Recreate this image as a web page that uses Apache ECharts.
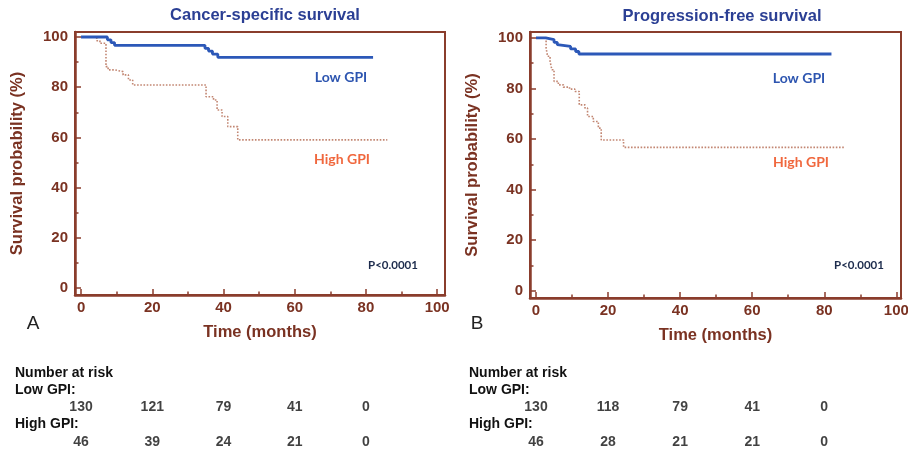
<!DOCTYPE html>
<html><head><meta charset="utf-8">
<script src="https://cdn.jsdelivr.net/npm/echarts@6/dist/echarts.min.js"></script>
<style>html,body{margin:0;padding:0;background:#fff}#c{width:908px;height:451px}</style>
</head><body><div id="c"></div>
<script>
// ---- data ----
const xTicks = [0, 20, 40, 60, 80, 100];
const xMinor = [10, 30, 50, 70, 90];
const yTicks = [0, 20, 40, 60, 80, 100];
const yMinor = [10, 30, 50, 70, 90];
const riskTimes = [0, 20, 40, 60, 80];

const cssLow = [[0,100],[7.4,98.9],[8.4,97.8],[9.4,96.7],[34.8,95.5],[35.8,94.4],[36.9,93.2],[38.4,91.9],[82,91.9]];
const cssHigh = [[0,100],[4.4,98.5],[5.3,97.5],[7.0,88.2],[7.6,86.9],[9.5,86.2],[11.8,84.9],[13.3,82.9],[14.5,80.9],[35.1,76.2],[37.2,74.9],[38.2,70.9],[39.6,68.3],[41.2,64.3],[44,59],[86,59]];
const pfsLow = [[0,100],[2.7,99.3],[5,98.2],[5.9,97.3],[6.4,96.6],[9.6,95.6],[11,94.6],[11.9,93.6],[82,93.6]];
const pfsHigh = [[0,100],[2.8,96],[3.2,92.7],[3.9,90.7],[4.4,87.4],[5,82.8],[6.2,81.4],[7.6,80.5],[9.3,79.7],[10.8,78.8],[12,73.5],[13.6,72.2],[14.3,68.9],[15.9,66.9],[17.3,64.3],[18.1,59.6],[24.3,56.7],[85.6,56.7]];

const cssRiskLow = [130, 121, 79, 41, 0];
const cssRiskHigh = [46, 39, 24, 21, 0];
const pfsRiskLow = [130, 118, 79, 41, 0];
const pfsRiskHigh = [46, 28, 21, 21, 0];

const titles = ['Cancer-specific survival', 'Progression-free survival'];
const xName = 'Time (months)';
const yName = 'Survival probability (%)';

// ---- styles ----
const BROWN = '#7a3222';
const FRAME = '#8a3d2c';
const ARIAL = '"Liberation Sans", Arial, sans-serif';
const LATO = 'Lato, "Open Sans", sans-serif';

const panels = [
  {grid:{left:75, top:32, width:370, height:263}, xmin:-1.7, xmax:102.2, ymin:-2.8, ymax:102, low:cssLow, high:cssHigh, rLow:cssRiskLow, rHigh:cssRiskHigh},
  {grid:{left:530, top:32, width:371, height:266}, xmin:-1.67, xmax:101.3, ymin:-2.85, ymax:102.3, low:pfsLow, high:pfsHigh, rLow:pfsRiskLow, rHigh:pfsRiskHigh}
];

const grids = [], xAxes = [], yAxes = [], series = [];
function tickAxis(gi, min, max, pos, vals, len) {
  return {gridIndex:gi, type:'value', min:min, max:max, position:pos, offset:0,
    axisLine:{show:false, onZero:false}, axisLabel:{show:false}, splitLine:{show:false},
    axisTick:{show:true, inside:true, length:len, customValues:vals, lineStyle:{color:FRAME, width:1.5}}};
}
panels.forEach((p, i) => {
  const gMain = grids.length;
  grids.push(Object.assign({show:true, borderColor:FRAME, borderWidth:2, backgroundColor:'transparent', containLabel:false, outerBoundsMode:'none'}, p.grid));
  const gRisk = grids.length;
  grids.push({left:p.grid.left, width:p.grid.width, top:407, height:35, containLabel:false, outerBoundsMode:'none'});

  const xi = xAxes.length;
  xAxes.push({gridIndex:gMain, type:'value', min:p.xmin, max:p.xmax, position:'bottom',
    axisLine:{show:true, onZero:false, lineStyle:{color:FRAME, width:2.5}},
    axisTick:{show:false},
    axisLabel:{show:true, customValues:xTicks, color:BROWN, fontWeight:'bold', fontSize:15, fontFamily:ARIAL, margin:5},
    splitLine:{show:false},
    name:xName, nameLocation:'middle', nameGap:29,
    nameTextStyle:{color:BROWN, fontWeight:'bold', fontSize:16.5, fontFamily:ARIAL}});
  xAxes.push(tickAxis(gMain, p.xmin, p.xmax, 'bottom', xTicks, 6));
  xAxes.push(tickAxis(gMain, p.xmin, p.xmax, 'bottom', xMinor, 3.5));
  xAxes.push({gridIndex:gRisk, type:'value', min:p.xmin, max:p.xmax, show:false});

  const yi = yAxes.length;
  yAxes.push({gridIndex:gMain, type:'value', min:p.ymin, max:p.ymax, position:'left',
    axisLine:{show:true, onZero:false, lineStyle:{color:FRAME, width:2.5}},
    axisTick:{show:false},
    axisLabel:{show:true, customValues:yTicks, color:BROWN, fontWeight:'bold', fontSize:15, fontFamily:ARIAL, margin:7},
    splitLine:{show:false},
    name:yName, nameLocation:'middle', nameGap:49,
    nameTextStyle:{color:BROWN, fontWeight:'bold', fontSize:16.5, fontFamily:ARIAL}});
  yAxes.push(tickAxis(gMain, p.ymin, p.ymax, 'left', yTicks, 6));
  yAxes.push(tickAxis(gMain, p.ymin, p.ymax, 'left', yMinor, 3.5));
  yAxes.push({gridIndex:gRisk, type:'value', min:0, max:1, show:false});

  series.push({type:'line', xAxisIndex:xi, yAxisIndex:yi, step:'end', showSymbol:false, data:p.high,
    lineStyle:{color:'#c28672', width:1.6, type:'dotted'}, silent:true, z:2});
  series.push({type:'line', xAxisIndex:xi, yAxisIndex:yi, step:'end', showSymbol:false, data:p.low,
    lineStyle:{color:'#2c58b8', width:2.8}, silent:true, z:3});

  const riskLabel = {show:true, position:'inside', color:'#111', fontWeight:'bold', fontSize:14, fontFamily:ARIAL,
    formatter: d => String(d.value[2])};
  series.push({type:'scatter', xAxisIndex:xi+3, yAxisIndex:yi+3, symbolSize:1, itemStyle:{color:'rgba(0,0,0,0)'}, silent:true,
    data: riskTimes.map((t, k) => [t, 1, p.rLow[k]]), label:riskLabel});
  series.push({type:'scatter', xAxisIndex:xi+3, yAxisIndex:yi+3, symbolSize:1, itemStyle:{color:'rgba(0,0,0,0)'}, silent:true,
    data: riskTimes.map((t, k) => [t, 0, p.rHigh[k]]), label:riskLabel});
});

function txt(text, x, y, font, fill, align) {
  return {type:'text', x:x, y:y, silent:true, style:{text:text, font:font, fill:fill, textAlign:align || 'center', textVerticalAlign:'middle'}};
}
const graphics = [];
[[0, 341, 77, 342, 159, 393, 265, 33, 15], [1, 799, 78, 801, 162, 859, 265, 477, 469]].forEach(a => {
  graphics.push(txt('Low GPI', a[1], a[2], 'bold 14px ' + LATO, '#2d55b0'));
  graphics.push(txt('High GPI', a[3], a[4], 'bold 14px ' + LATO, '#f0683e'));
  graphics.push(txt('P<0.0001', a[5], a[6], 'bold 11.5px ' + LATO, '#1c2b4c'));
  graphics.push(txt(a[0] === 0 ? 'A' : 'B', a[7], 324, '19px ' + ARIAL, '#222'));
  graphics.push(txt('Number at risk', a[8], 372.7, 'bold 14px ' + ARIAL, '#111', 'left'));
  graphics.push(txt('Low GPI:', a[8], 390, 'bold 14px ' + ARIAL, '#111', 'left'));
  graphics.push(txt('High GPI:', a[8], 424, 'bold 14px ' + ARIAL, '#111', 'left'));
});

const chart = echarts.init(document.getElementById('c'), null, {renderer:'canvas'});
chart.setOption({
  backgroundColor:'#ffffff',
  animation:false,
  title:[
    {text:titles[0], left:260, top:2, textAlign:'center', textStyle:{color:'#2b3f94', fontWeight:'bold', fontSize:16.5, fontFamily:ARIAL}},
    {text:titles[1], left:717, top:3, textAlign:'center', textStyle:{color:'#2b3f94', fontWeight:'bold', fontSize:16.5, fontFamily:ARIAL}}
  ],
  grid:grids, xAxis:xAxes, yAxis:yAxes, series:series, graphic:graphics
});
</script></body></html>
